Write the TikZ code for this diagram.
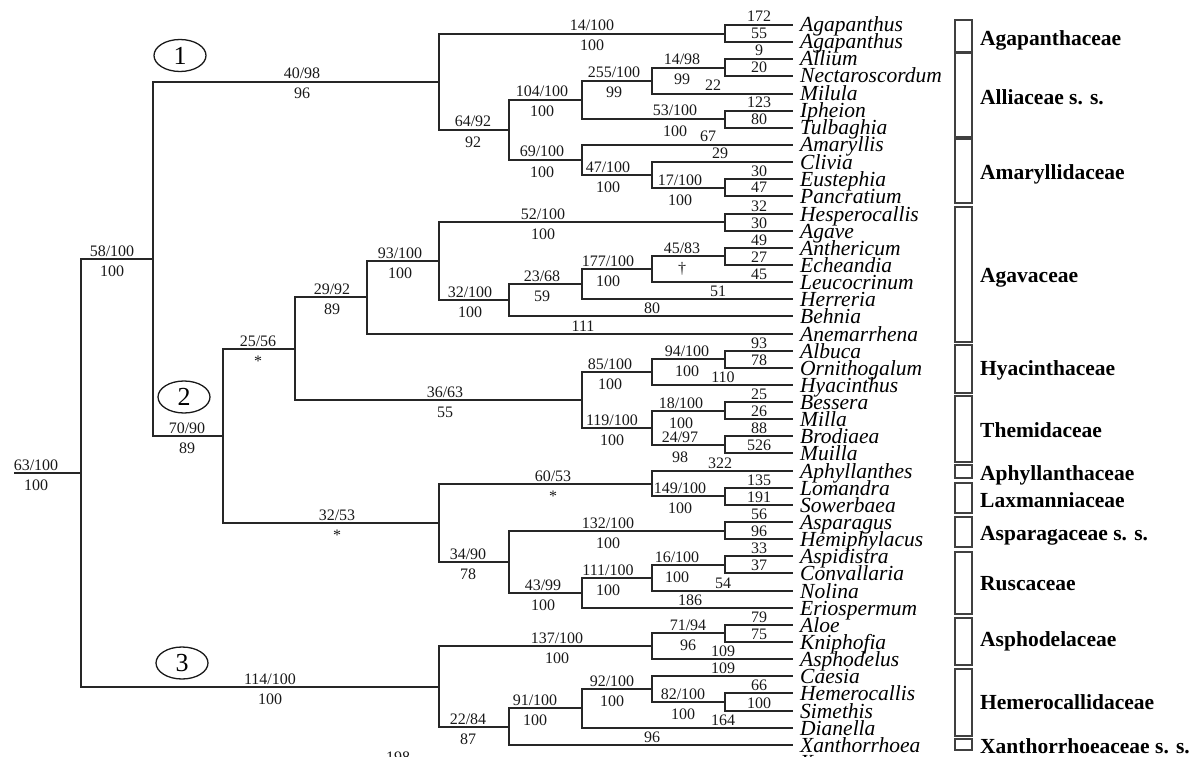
\documentclass[tikz,border=0pt]{standalone}
\usepackage{fontspec}
\setmainfont{Liberation Serif}
\usetikzlibrary{shapes.geometric}
\tikzset{
  br/.style={line width=2pt, draw=black!85},
  num/.style={font=\fontsize{16}{16}\selectfont, inner sep=0pt, anchor=base, text=black!90},
  taxon/.style={font=\fontsize{21.5}{21.5}\selectfont\itshape, inner sep=0pt, anchor=base west},
  fam/.style={font=\fontsize{21.5}{21.5}\selectfont\bfseries, inner sep=0pt, anchor=base west},
  fbox/.style={draw=black!75, line width=1.3pt, inner sep=0pt, minimum width=17pt},
  clade/.style={draw=black!90, line width=1.3pt, ellipse, minimum width=52pt, minimum height=32pt, inner sep=0pt, font=\fontsize{26}{26}\selectfont},
}
\newcommand\mytip[4]{%
  \coordinate (t#1) at (793,{round(25+(#1-1)*17.14)});
  \node[taxon] (tx#1) at (800,{round(25+(#1-1)*17.14)+7}) {#2};
  \node[num] (tl#1) at (#4,{round(25+(#1-1)*17.14)-3}) {#3};}
\newcommand\mylab[5]{%
  \node[num] (#1a) at (#2,{#3-3}) {#4};
  \node[num] (#1b) at (#2,{#3+17}) {#5};}
\newcommand\myfam[5]{%
  \node[fbox, minimum height={#3-#2}] (fb#1) at (963.5,{(#2+#3)/2}) {};
  \node[fam] (fl#1) at (980,#4) {#5};}
\begin{document}
\begin{tikzpicture}[x=1pt,y=-1pt]
\useasboundingbox (0,0) rectangle (1194,757);
\clip (0,0) rectangle (1194,757);
% ---------- tips ----------
\mytip{1}{Agapanthus}{172}{759}
\mytip{2}{Agapanthus}{55}{759}
\mytip{3}{Allium}{9}{759}
\mytip{4}{Nectaroscordum}{20}{759}
\mytip{5}{Milula}{22}{713}
\mytip{6}{Ipheion}{123}{759}
\mytip{7}{Tulbaghia}{80}{759}
\mytip{8}{Amaryllis}{67}{708}
\mytip{9}{Clivia}{29}{720}
\mytip{10}{Eustephia}{30}{759}
\mytip{11}{Pancratium}{47}{759}
\mytip{12}{Hesperocallis}{32}{759}
\mytip{13}{Agave}{30}{759}
\mytip{14}{Anthericum}{49}{759}
\mytip{15}{Echeandia}{27}{759}
\mytip{16}{Leucocrinum}{45}{759}
\mytip{17}{Herreria}{51}{718}
\mytip{18}{Behnia}{80}{652}
\mytip{19}{Anemarrhena}{111}{583}
\mytip{20}{Albuca}{93}{759}
\mytip{21}{Ornithogalum}{78}{759}
\mytip{22}{Hyacinthus}{110}{723}
\mytip{23}{Bessera}{25}{759}
\mytip{24}{Milla}{26}{759}
\mytip{25}{Brodiaea}{88}{759}
\mytip{26}{Muilla}{526}{759}
\mytip{27}{Aphyllanthes}{322}{720}
\mytip{28}{Lomandra}{135}{759}
\mytip{29}{Sowerbaea}{191}{759}
\mytip{30}{Asparagus}{56}{759}
\mytip{31}{Hemiphylacus}{96}{759}
\mytip{32}{Aspidistra}{33}{759}
\mytip{33}{Convallaria}{37}{759}
\mytip{34}{Nolina}{54}{723}
\mytip{35}{Eriospermum}{186}{690}
\mytip{36}{Aloe}{79}{759}
\mytip{37}{Kniphofia}{75}{759}
\mytip{38}{Asphodelus}{109}{723}
\mytip{39}{Caesia}{109}{723}
\mytip{40}{Hemerocallis}{66}{759}
\mytip{41}{Simethis}{100}{759}
\mytip{42}{Dianella}{164}{723}
\mytip{43}{Xanthorrhoea}{96}{652}
\node[taxon] (tx44) at (800,769) {X};
\node[num] (cut198) at (398,762) {198};
% ---------- internal nodes ----------
\coordinate (cA) at (725,34);
\coordinate (cAN) at (725,68);
\coordinate (n1498) at (652,81);
\coordinate (cIT) at (725,119);
\coordinate (n104) at (582,100);
\coordinate (cEP) at (725,188);
\coordinate (n47) at (652,175);
\coordinate (n69) at (582,160);
\coordinate (n64) at (509,130);
\coordinate (n40) at (439,82);
\coordinate (cHA) at (725,222);
\coordinate (cAE) at (725,256);
\coordinate (n177) at (652,269);
\coordinate (n23) at (582,284);
\coordinate (n32) at (509,300);
\coordinate (n93) at (439,261);
\coordinate (n29) at (367,297);
\coordinate (cAO) at (725,359);
\coordinate (hyac) at (652,372);
\coordinate (cBM) at (725,411);
\coordinate (cBrM) at (725,445);
\coordinate (them) at (652,428);
\coordinate (hyth) at (582,400);
\coordinate (n25) at (295,349);
\coordinate (cLS) at (725,496);
\coordinate (nAph) at (652,484);
\coordinate (cAH) at (725,531);
\coordinate (cAC) at (725,565);
\coordinate (n16) at (652,578);
\coordinate (n111) at (582,593);
\coordinate (n43) at (509,562);
\coordinate (n34) at (439,523);
\coordinate (n70) at (223,436);
\coordinate (n58) at (153,259);
\coordinate (cAK) at (725,633);
\coordinate (n71) at (652,646);
\coordinate (cHS) at (725,702);
\coordinate (n82) at (652,689);
\coordinate (n92) at (582,708);
\coordinate (n91) at (509,727);
\coordinate (n22) at (439,687);
\coordinate (root) at (81,473);
\coordinate (rstem) at (14,473);
% ---------- branches ----------
\draw[br] (rstem) -- (root);
\draw[br] (root) |- (n58) (root) |- (n22);
\draw[br] (n58) |- (n40) (n58) |- (n70);
\draw[br] (n40) |- (cA) (n40) |- (n64);
\draw[br] (cA) |- (t1) (cA) |- (t2);
\draw[br] (n64) |- (n104) (n64) |- (n69);
\draw[br] (n104) |- (n1498) (n104) |- (cIT);
\draw[br] (n1498) |- (cAN) (n1498) |- (t5);
\draw[br] (cAN) |- (t3) (cAN) |- (t4);
\draw[br] (cIT) |- (t6) (cIT) |- (t7);
\draw[br] (n69) |- (t8) (n69) |- (n47);
\draw[br] (n47) |- (t9) (n47) |- (cEP);
\draw[br] (cEP) |- (t10) (cEP) |- (t11);
\draw[br] (n70) |- (n25) (n70) |- (n34);
\draw[br] (n25) |- (n29) (n25) |- (hyth);
\draw[br] (n29) |- (n93) (n29) |- (t19);
\draw[br] (n93) |- (cHA) (n93) |- (n32);
\draw[br] (cHA) |- (t12) (cHA) |- (t13);
\draw[br] (n32) |- (n23) (n32) |- (t18);
\draw[br] (n23) |- (n177) (n23) |- (t17);
\draw[br] (n177) |- (cAE) (n177) |- (t16);
\draw[br] (cAE) |- (t14) (cAE) |- (t15);
\draw[br] (hyth) |- (hyac) (hyth) |- (them);
\draw[br] (hyac) |- (cAO) (hyac) |- (t22);
\draw[br] (cAO) |- (t20) (cAO) |- (t21);
\draw[br] (them) |- (cBM) (them) |- (cBrM);
\draw[br] (cBM) |- (t23) (cBM) |- (t24);
\draw[br] (cBrM) |- (t25) (cBrM) |- (t26);
\draw[br] (n34) |- (nAph) (n34) |- (n43);
\draw[br] (nAph) |- (t27) (nAph) |- (cLS);
\draw[br] (cLS) |- (t28) (cLS) |- (t29);
\draw[br] (n43) |- (cAH) (n43) |- (n111);
\draw[br] (cAH) |- (t30) (cAH) |- (t31);
\draw[br] (n111) |- (n16) (n111) |- (t35);
\draw[br] (n16) |- (cAC) (n16) |- (t34);
\draw[br] (cAC) |- (t32) (cAC) |- (t33);
\draw[br] (n22) |- (n71) (n22) |- (n91);
\draw[br] (n71) |- (cAK) (n71) |- (t38);
\draw[br] (cAK) |- (t36) (cAK) |- (t37);
\draw[br] (n91) |- (n92) (n91) |- (t43);
\draw[br] (n92) |- (n82) (n92) |- (t42);
\draw[br] (n82) |- (t39) (n82) |- (cHS);
\draw[br] (cHS) |- (t40) (cHS) |- (t41);
% ---------- branch support labels ----------
\mylab{Ln40}{302}{82}{40/98}{96}
\mylab{LcA}{592}{34}{14/100}{100}
\mylab{Ln64}{473}{130}{64/92}{92}
\mylab{Ln104}{542}{100}{104/100}{100}
\mylab{Ln1498}{614}{81}{255/100}{99}
\mylab{LcAN}{682}{68}{14/98}{99}
\mylab{LcIT}{675}{119}{53/100}{100}
\mylab{Ln69}{542}{160}{69/100}{100}
\mylab{Ln47}{608}{175}{47/100}{100}
\mylab{LcEP}{680}{188}{17/100}{100}
\mylab{Ln58}{112}{259}{58/100}{100}
\mylab{Ln70}{187}{436}{70/90}{89}
\mylab{Ln25}{258}{349}{25/56}{*}
\mylab{Ln29}{332}{297}{29/92}{89}
\mylab{Ln93}{400}{261}{93/100}{100}
\mylab{LcHA}{543}{222}{52/100}{100}
\mylab{Ln32}{470}{300}{32/100}{100}
\mylab{Ln23}{542}{284}{23/68}{59}
\mylab{Ln177}{608}{269}{177/100}{100}
\mylab{LcAE}{682}{256}{45/83}{†}
\mylab{Lhyth}{445}{400}{36/63}{55}
\mylab{Lhyac}{610}{372}{85/100}{100}
\mylab{LcAO}{687}{359}{94/100}{100}
\mylab{Lthem}{612}{428}{119/100}{100}
\mylab{LcBM}{681}{411}{18/100}{100}
\mylab{LcBrM}{680}{445}{24/97}{98}
\mylab{Ln34}{337}{523}{32/53}{*}
\mylab{LnAph}{553}{484}{60/53}{*}
\mylab{LcLS}{680}{496}{149/100}{100}
\mylab{Ln43}{468}{562}{34/90}{78}
\mylab{LcAH}{608}{531}{132/100}{100}
\mylab{Ln111}{543}{593}{43/99}{100}
\mylab{Ln16}{608}{578}{111/100}{100}
\mylab{LcAC}{677}{565}{16/100}{100}
\mylab{Ln22}{270}{687}{114/100}{100}
\mylab{Ln71}{557}{646}{137/100}{100}
\mylab{LcAK}{688}{633}{71/94}{96}
\mylab{Ln91}{468}{727}{22/84}{87}
\mylab{Ln92}{535}{708}{91/100}{100}
\mylab{Ln82}{612}{689}{92/100}{100}
\mylab{LcHS}{683}{702}{82/100}{100}
\mylab{Lroot}{36}{473}{63/100}{100}
% ---------- clade ellipses ----------
\node[clade] (e1) at (180,55.5) {1};
\node[clade] (e2) at (184,397) {2};
\node[clade] (e3) at (182,663) {3};
% ---------- families ----------
\myfam{1}{20}{52}{46}{Agapanthaceae}
\myfam{2}{53}{137}{105}{Alliaceae s. s.}
\myfam{3}{139}{203}{179}{Amaryllidaceae}
\myfam{4}{207}{342}{282}{Agavaceae}
\myfam{5}{345}{393}{375}{Hyacinthaceae}
\myfam{6}{396}{462}{437}{Themidaceae}
\myfam{7}{465}{478}{480}{Aphyllanthaceae}
\myfam{8}{483}{513}{507}{Laxmanniaceae}
\myfam{9}{517}{547}{540}{Asparagaceae s. s.}
\myfam{10}{552}{614}{590}{Ruscaceae}
\myfam{11}{618}{665}{646}{Asphodelaceae}
\myfam{12}{669}{736}{709}{Hemerocallidaceae}
\myfam{13}{739}{750}{753}{Xanthorrhoeaceae s. s.}
\end{tikzpicture}
\end{document}
